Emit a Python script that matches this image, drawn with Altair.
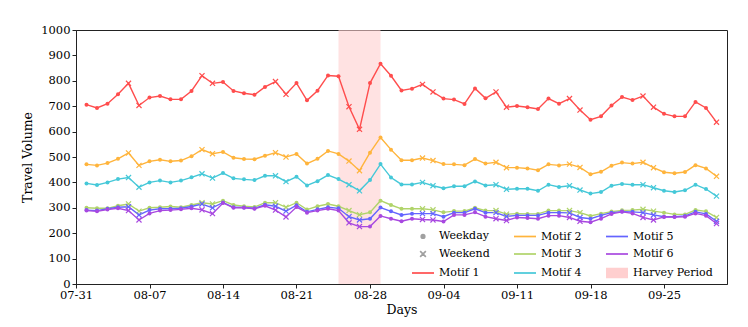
import altair as alt
import pandas as pd

# ---------------- data ----------------
start_date = "2017-08-01"
end_date = "2017-09-30"

motif1 = [706, 693, 710, 747, 790, 703, 734, 740, 727, 727, 760, 820, 790, 795, 760, 751, 745, 776, 797, 747, 791, 723,
          761, 821, 818, 698, 609, 791, 867, 820, 762,
          769, 786, 756, 730, 726, 709, 770, 731, 756, 696,
          701, 696, 689, 730, 710, 730, 685, 647, 660, 703, 736, 724, 740, 696, 670, 660, 660, 717, 693, 637]
motif2 = [471, 467, 476, 493, 516, 467, 483, 489, 483, 486, 503, 529, 513, 520, 497, 492, 491, 505, 517, 500, 512, 474,
          493, 524, 512, 484, 446, 517, 577, 529, 487,
          487, 496, 486, 472, 471, 468, 492, 474, 479, 458,
          458, 455, 448, 471, 467, 472, 459, 432, 442, 466, 478, 474, 479, 458, 440, 436, 441, 468, 455, 424]
motif3 = [300, 298, 298, 308, 315, 287, 300, 302, 305, 302, 311, 320, 315, 328, 311, 306, 303, 320, 320, 302, 320, 293,
          306, 315, 306, 289, 273, 282, 328, 311, 296,
          296, 296, 292, 282, 287, 287, 300, 289, 289, 275,
          277, 276, 276, 289, 289, 289, 281, 268, 277, 285, 290, 291, 294, 287, 281, 274, 274, 291, 286, 262]
motif4 = [396, 390, 400, 413, 419, 381, 400, 407, 400, 407, 420, 434, 417, 437, 416, 412, 409, 426, 426, 403, 422, 388,
          405, 429, 413, 391, 367, 409, 472, 419, 392,
          392, 400, 387, 377, 385, 385, 404, 388, 391, 373,
          375, 375, 367, 391, 382, 387, 370, 356, 362, 387, 394, 391, 391, 379, 367, 362, 369, 391, 374, 346]
motif5 = [291, 289, 296, 302, 304, 272, 291, 296, 296, 298, 305, 315, 300, 321, 302, 301, 298, 312, 306, 287, 310, 284,
          294, 302, 298, 265, 252, 257, 301, 286, 272,
          277, 277, 277, 265, 281, 281, 296, 281, 281, 266,
          270, 270, 270, 281, 281, 280, 262, 257, 270, 281, 285, 284, 281, 272, 265, 265, 268, 284, 276, 247]
motif6 = [289, 286, 293, 298, 289, 252, 278, 289, 291, 294, 298, 292, 277, 319, 300, 300, 296, 308, 291, 264, 303, 281,
          289, 296, 289, 241, 226, 226, 268, 257, 247,
          257, 254, 252, 246, 272, 272, 282, 265, 257, 250,
          262, 260, 257, 269, 269, 262, 247, 243, 257, 276, 284, 278, 262, 252, 264, 264, 265, 278, 269, 238]

harvey_start = ["2017-08-25"]
harvey_end = ["2017-08-29"]

x_domain = ["2017-07-31", "2017-10-01"]
x_ticks = ["2017-07-31", "2017-08-07", "2017-08-14", "2017-08-21", "2017-08-28",
           "2017-09-04", "2017-09-11", "2017-09-18", "2017-09-25"]
y_ticks = list(range(0, 1001, 100))

# legend entries (filled column by column in a 3-column grid)
legend_order = ["Weekday", "Weekend", "Motif 1",
                "Motif 2", "Motif 3", "Motif 4",
                "Motif 5", "Motif 6", "Harvey Period"]
legend_colors = ["#a0a0a0", "#a0a0a0", "#ff4d4d",
                 "#ffb43c", "#b0d46a", "#45c8d8",
                 "#6464ff", "#a848e0", "#ffcfcf"]

# symbol paths (unit square, scaled by the legend symbol size)
XPATH = "M-1,-1L1,1M1,-1L-1,1"
DOT = ("M-0.16,0A0.16,0.16 0 1,0 0.16,0A0.16,0.16 0 1,0 -0.16,0"
       "M-0.07,0A0.07,0.07 0 1,0 0.07,0A0.07,0.07 0 1,0 -0.07,0")
SMALLX = "M-0.26,-0.26L0.26,0.26M0.26,-0.26L-0.26,0.26"
PATCH = "".join(f"M-1,{y:.2f}H1" for y in [-0.39, -0.26, -0.13, 0, 0.13, 0.26, 0.39])
legend_shapes = [DOT, SMALLX, "stroke",
                 "stroke", "stroke", "stroke",
                 "stroke", "stroke", PATCH]

# ---------------- build tables ----------------
dates = pd.date_range(start_date, end_date, freq="D")
series = {"Motif 1": motif1, "Motif 2": motif2, "Motif 3": motif3,
          "Motif 4": motif4, "Motif 5": motif5, "Motif 6": motif6}
rows = []
for name, vals in series.items():
    for d, v in zip(dates, vals):
        rows.append({"date": d.strftime("%Y-%m-%d"), "series": name, "value": v,
                     "daytype": "Weekend" if d.dayofweek >= 5 else "Weekday"})
df = pd.DataFrame(rows)
harvey = pd.DataFrame({"start": harvey_start, "end": harvey_end, "series": ["Harvey Period"]})
legend_df = pd.DataFrame({"series": legend_order})


def ms(s):
    return int(pd.Timestamp(s, tz="UTC").value // 10**6)


FONT = "DejaVu Serif"

legend = alt.Legend(
    title=None, orient="none", legendX=335, legendY=194, columns=3,
    columnPadding=20, rowPadding=-7.5, padding=0, labelOffset=4,
    symbolSize=484, symbolStrokeWidth=1.7,
    labelFont=FONT, labelFontSize=11, labelColor="black", symbolOpacity=1,
)

cscale = alt.Scale(domain=legend_order, range=legend_colors)

x_scale = alt.Scale(type="utc", domain=[ms(x_domain[0]), ms(x_domain[1])])
x_axis = alt.Axis(values=[ms(t) for t in x_ticks], labelExpr="utcFormat(datum.value, '%m-%d')",
                  title="Days", labelFlush=False, grid=False, tickSize=4, labelPadding=1, titlePadding=3)
y_scale = alt.Scale(domain=[0, 1000], nice=False)
y_axis = alt.Axis(values=y_ticks, format="d", title="Travel Volume", labelFlush=False, grid=False,
                  tickSize=4, labelPadding=2, titlePadding=6)

rect = alt.Chart(harvey).mark_rect(opacity=0.6).encode(
    x=alt.X("start:T", scale=x_scale, axis=x_axis),
    x2="end:T",
    color=alt.Color("series:N", scale=cscale, legend=None),
)

base = alt.Chart(df).encode(
    x=alt.X("date:T", scale=x_scale, axis=x_axis),
    y=alt.Y("value:Q", scale=y_scale, axis=y_axis),
    color=alt.Color("series:N", scale=cscale, legend=None),
    detail="series:N",
)

lines = base.mark_line(strokeWidth=1.4)
wd = base.transform_filter("datum.daytype === 'Weekday'").mark_circle(size=16, opacity=1)
we = base.transform_filter("datum.daytype === 'Weekend'").mark_point(
    shape=XPATH, filled=False, size=26, strokeWidth=1.2, opacity=1)

# legend carrier (drawn off-canvas; only its legend is visible)
leg = alt.Chart(legend_df).mark_point(filled=False, opacity=1, size=484, strokeWidth=1.7).encode(
    x=alt.value(-600), y=alt.value(-600),
    color=alt.Color("series:N", scale=cscale, legend=legend),
    shape=alt.Shape("series:N", scale=alt.Scale(domain=legend_order, range=legend_shapes), legend=legend),
)

chart = alt.layer(rect, lines, wd, we, leg).resolve_legend(
    color="independent", shape="independent"
).properties(
    width=651, height=254,
    autosize=alt.AutoSizeParams(type="none"),
    padding={"left": 68, "top": 22, "right": 12, "bottom": 34},
).configure_view(
    stroke="#222222", strokeWidth=1
).configure_axis(
    labelFont=FONT, labelFontSize=11.5, labelColor="black",
    titleFont=FONT, titleFontSize=12.5, titleFontWeight="normal", titleColor="black",
    domainColor="#222222", tickColor="#222222",
)

chart.save("out.html", embed_options={"renderer": "svg", "actions": False})
